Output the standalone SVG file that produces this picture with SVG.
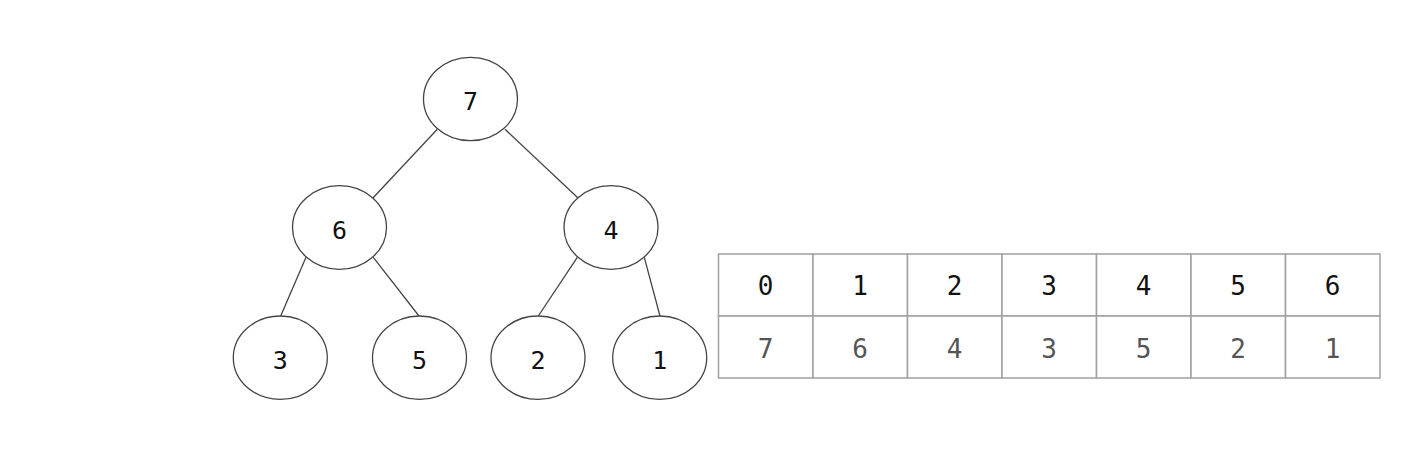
<svg xmlns="http://www.w3.org/2000/svg" width="1420" height="470" viewBox="0 0 1420 470">
<style>
.node ellipse{fill:#fff;stroke:#444;stroke-width:1.3}
.node text{font-family:"DejaVu Sans Mono",monospace;font-size:25px;fill:#111;text-anchor:middle}
#edges line{stroke:#444;stroke-width:1.3}
.cell{fill:#fff;stroke:#a0a0a0;stroke-width:1.5}
.hd{font-family:"DejaVu Sans Mono",monospace;font-size:26px;fill:#111;text-anchor:middle}
.vl{font-family:"DejaVu Sans Mono",monospace;font-size:26px;fill:#555;text-anchor:middle}
</style>
<rect width="1420" height="470" fill="#fff"/>
<g id="edges">
<line x1="437.3" y1="129.3" x2="372.7" y2="198.3"/>
<line x1="505" y1="129.3" x2="578.3" y2="198.3"/>
<line x1="306" y1="257.3" x2="280.7" y2="316"/>
<line x1="373.3" y1="257.3" x2="419" y2="316"/>
<line x1="577.3" y1="257.3" x2="538.3" y2="316"/>
<line x1="644.3" y1="257.3" x2="660" y2="316"/>
</g>
<g id="n7" class="node"><ellipse cx="470.5" cy="99" rx="47" ry="41.7"/><text x="470.5" y="110">7</text></g>
<g id="n6" class="node"><ellipse cx="339.5" cy="227.5" rx="47" ry="41.8"/><text x="339.5" y="238.5">6</text></g>
<g id="n4" class="node"><ellipse cx="611" cy="227.5" rx="47" ry="41.8"/><text x="611" y="238.5">4</text></g>
<g id="n3" class="node"><ellipse cx="280.3" cy="357.7" rx="47" ry="41.7"/><text x="280.3" y="368.7">3</text></g>
<g id="n5" class="node"><ellipse cx="419.5" cy="357.7" rx="47" ry="41.7"/><text x="419.5" y="368.7">5</text></g>
<g id="n2" class="node"><ellipse cx="538" cy="357.7" rx="47" ry="41.7"/><text x="538" y="368.7">2</text></g>
<g id="n1" class="node"><ellipse cx="659.7" cy="357.7" rx="47" ry="41.7"/><text x="659.7" y="368.7">1</text></g>
<g id="table">
<rect class="cell" x="718.5" y="254" width="94.5" height="62"/>
<rect class="cell" x="813" y="254" width="94.5" height="62"/>
<rect class="cell" x="907.5" y="254" width="94.5" height="62"/>
<rect class="cell" x="1002" y="254" width="94.5" height="62"/>
<rect class="cell" x="1096.5" y="254" width="94.5" height="62"/>
<rect class="cell" x="1191" y="254" width="94.5" height="62"/>
<rect class="cell" x="1285.5" y="254" width="94.5" height="62"/>
<rect class="cell" x="718.5" y="316" width="94.5" height="62"/>
<rect class="cell" x="813" y="316" width="94.5" height="62"/>
<rect class="cell" x="907.5" y="316" width="94.5" height="62"/>
<rect class="cell" x="1002" y="316" width="94.5" height="62"/>
<rect class="cell" x="1096.5" y="316" width="94.5" height="62"/>
<rect class="cell" x="1191" y="316" width="94.5" height="62"/>
<rect class="cell" x="1285.5" y="316" width="94.5" height="62"/>
<text class="hd" x="765.7" y="295">0</text>
<text class="hd" x="860.2" y="295">1</text>
<text class="hd" x="954.7" y="295">2</text>
<text class="hd" x="1049.2" y="295">3</text>
<text class="hd" x="1143.7" y="295">4</text>
<text class="hd" x="1238.2" y="295">5</text>
<text class="hd" x="1332.7" y="295">6</text>
<text class="vl" x="765.7" y="357.5">7</text>
<text class="vl" x="860.2" y="357.5">6</text>
<text class="vl" x="954.7" y="357.5">4</text>
<text class="vl" x="1049.2" y="357.5">3</text>
<text class="vl" x="1143.7" y="357.5">5</text>
<text class="vl" x="1238.2" y="357.5">2</text>
<text class="vl" x="1332.7" y="357.5">1</text>
</g>
</svg>
